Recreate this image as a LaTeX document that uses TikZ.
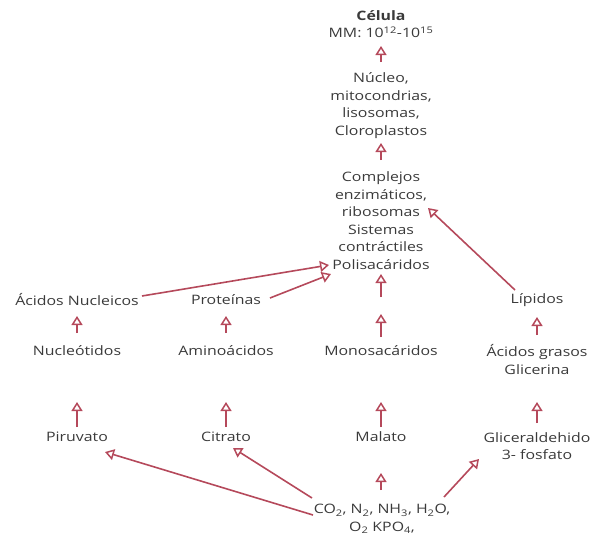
\documentclass[tikz,border=0pt]{standalone}
\usepackage{fontspec}
\setmainfont{Open Sans}[FakeStretch=1.22]
\usetikzlibrary{arrows.meta,calc}
\definecolor{txt}{HTML}{3A3A3A}
\definecolor{arrc}{HTML}{B5495B}
\begin{document}
\begin{tikzpicture}[x=1pt,y=-1pt,
  lbl/.style={text=txt, font=\fontsize{13}{17.5}\selectfont, align=center, inner sep=1pt},
  arw/.style={draw=arrc, line width=1.6pt, -{Triangle[open, length=9pt, width=11pt, line width=1.5pt]}}]
\useasboundingbox (0,0) rectangle (594,536);
\node[lbl] (cel) at (381,24) {\textbf{Célula}\\MM: 10\textsuperscript{12}-10\textsuperscript{15}};
\node[lbl] (nuc) at (381,105.5) {Núcleo,\\mitocondrias,\\lisosomas,\\Cloroplastos};
\node[lbl] (comp) at (381,220.5) {Complejos\\enzimáticos,\\ribosomas\\Sistemas\\contráctiles\\Polisacáridos};
\node[lbl] (an) at (77,300) {Ácidos Nucleicos};
\node[lbl] (prot) at (226,300) {Proteínas};
\node[lbl] (lip) at (537,300) {Lípidos};
\coordinate (mid) at (381,305.5);
\node[lbl] (nucl) at (77,351) {Nucleótidos};
\node[lbl] (amino) at (226,351) {Aminoácidos};
\node[lbl] (mono) at (381,351) {Monosacáridos};
\node[lbl] (ag) at (537,359.5) {Ácidos grasos\\Glicerina};
\node[lbl] (piru) at (77,437) {Piruvato};
\node[lbl] (citr) at (226,437) {Citrato};
\node[lbl] (mala) at (381,437) {Malato};
\node[lbl] (glic) at (537,446) {Gliceraldehido\\3- fosfato};
\node[lbl] (gas) at (382,519) {CO\textsubscript{2}, N\textsubscript{2}, NH\textsubscript{3}, H\textsubscript{2}O,\\O\textsubscript{2} KPO\textsubscript{4},};
% vertical arrows
\draw[arw] ($(nuc)+(0,-43.5)$) -- ($(cel)+(0,22)$);
\draw[arw] ($(comp)+(0,-60.5)$) -- ($(nuc)+(0,37.5)$);
\draw[arw] ($(mid)+(0,-8.5)$) -- ($(comp)+(0,53.5)$);
\draw[arw] ($(mono)+(0,-14)$) -- ($(mid)+(0,8.5)$);
\draw[arw] ($(nucl)+(0,-18)$) -- ($(an)+(0,16)$);
\draw[arw] ($(amino)+(0,-18)$) -- ($(prot)+(0,16)$);
\draw[arw] ($(ag)+(0,-24.5)$) -- ($(lip)+(0,17)$);
\draw[arw] ($(piru)+(0,-10)$) -- ($(nucl)+(0,51)$);
\draw[arw] ($(citr)+(0,-10)$) -- ($(amino)+(0,51)$);
\draw[arw] ($(mala)+(0,-10)$) -- ($(mono)+(0,51)$);
\draw[arw] ($(glic)+(0,-23)$) -- ($(ag)+(0,42.5)$);
\draw[arw] ($(gas)+(-1,-29)$) -- ($(mala)+(0,36)$);
% diagonal arrows
\draw[arw] ($(an)+(65,-4)$) -- ($(comp)+(-52,44.5)$);
\draw[arw] ($(prot)+(44,-2)$) -- ($(comp)+(-50,53.5)$);
\draw[arw] ($(lip)+(-22,-10)$) -- ($(comp)+(47,-12.5)$);
\draw[arw] ($(gas)+(-69,-4)$) -- ($(piru)+(28,15)$);
\draw[arw] ($(gas)+(-70,-21)$) -- ($(citr)+(7,11)$);
\draw[arw] ($(gas)+(62,-22)$) -- ($(glic)+(-58,13)$);
\end{tikzpicture}
\end{document}
